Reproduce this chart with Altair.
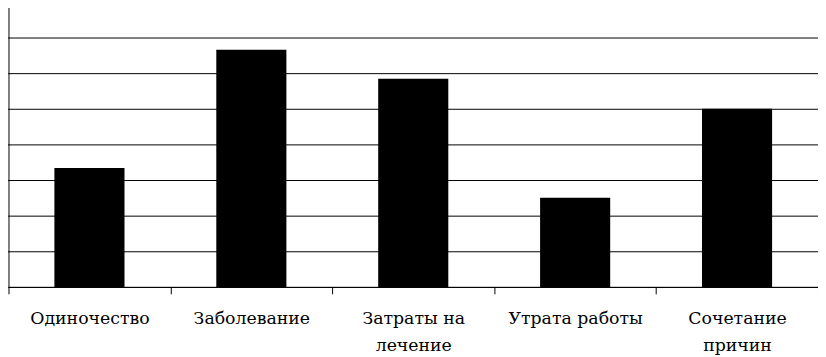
import altair as alt
import pandas as pd

categories = ["Одиночество", "Заболевание", "Затраты на лечение", "Утрата работы", "Сочетание причин"]
values = [16.7, 33.3, 29.2, 12.5, 25.0]
y_ticks = [0, 5, 10, 15, 20, 25, 30, 35, 40]

df = pd.DataFrame({"cat": categories, "val": values})

label_expr = (
    "datum.label == 'Затраты на лечение' ? ['Затраты на', 'лечение'] : "
    "datum.label == 'Сочетание причин' ? ['Сочетание', 'причин'] : datum.label"
)

chart = (
    alt.Chart(df)
    .mark_bar(color="black", width=alt.RelativeBandSize(0.433))
    .encode(
        x=alt.X(
            "cat:N",
            sort=categories,
            scale=alt.Scale(paddingInner=0, paddingOuter=0),
            axis=alt.Axis(
                title=None,
                labelAngle=0,
                labelExpr=label_expr,
                tickBand="extent",
                tickSize=7,
                tickColor="black",
                domainColor="black",
                labelColor="black",
                labelFont="DejaVu Serif",
                labelFontSize=17.5,
                labelPadding=16,
                labelLineHeight=27,
                labelBaseline="top",
                grid=False,
            ),
        ),
        y=alt.Y(
            "val:Q",
            scale=alt.Scale(domain=[0, 40], nice=False),
            axis=alt.Axis(
                title=None,
                labels=False,
                values=y_ticks,
                tickSize=6,
                tickColor="black",
                domainColor="black",
                grid=True,
                gridColor="black",
                gridOpacity=1,
                gridWidth=1,
            ),
        ),
    )
    .properties(
        width=818,
        height=288,
        padding={"left": 0.5, "top": -8, "right": 0, "bottom": 69},
        autosize=alt.AutoSizeParams(type="none"),
    )
    .configure_view(stroke=None)
)

chart.save("out.html", embed_options={"renderer": "svg", "actions": False})
